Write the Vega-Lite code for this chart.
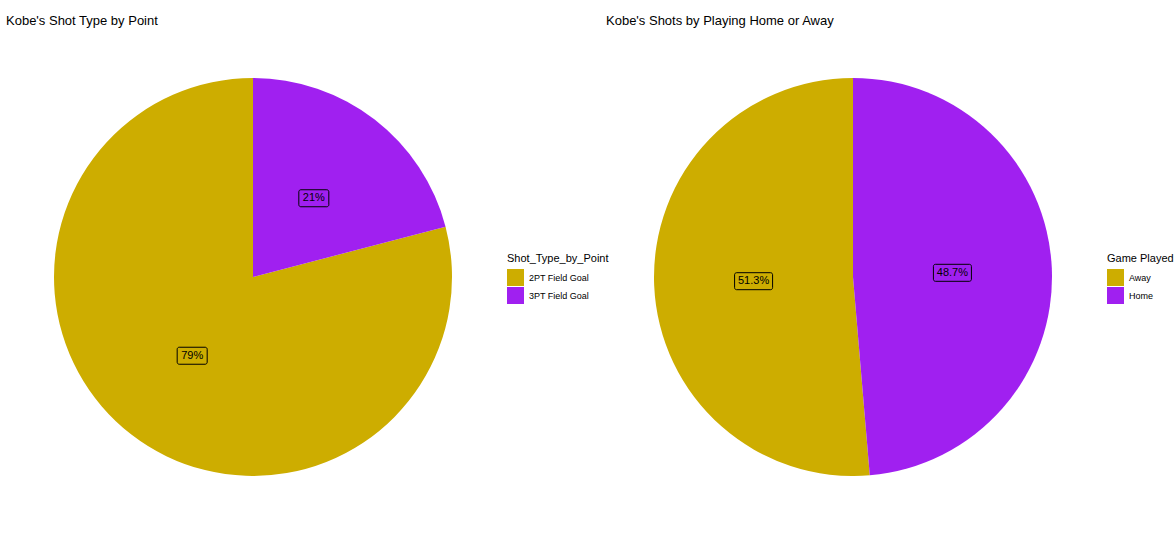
{
  "$schema": "https://vega.github.io/schema/vega-lite/v6.json",
  "background": "white",
  "padding": {"left": 6, "top": 15, "right": 0, "bottom": 0},
  "datasets": {
    "shot": [
      {"category": "2PT Field Goal", "count": 24271, "label": "79%"},
      {"category": "3PT Field Goal", "count": 6426, "label": "21%"}
    ],
    "home": [
      {"category": "Away", "count": 15761, "label": "51.3%"},
      {"category": "Home", "count": 14936, "label": "48.7%"}
    ]
  },
  "bounds": "flush",
  "spacing": 202,
  "resolve": {"scale": {"color": "independent", "x": "independent", "y": "independent"}, "legend": {"color": "independent"}},
  "hconcat": [
    {
      "width": 398,
      "height": 398,
      "title": {"text": "Kobe's Shot Type by Point", "anchor": "start", "dx": -48, "offset": 50},
      "data": {"name": "shot"},
      "transform": [
        {"joinaggregate": [{"op": "sum", "field": "count", "as": "total"}]},
        {"window": [{"op": "sum", "field": "count", "as": "cum"}], "sort": [{"field": "category", "order": "descending"}], "frame": [null, 0]},
        {"calculate": "2*PI*(datum.cum - datum.count/2)/datum.total", "as": "mid"},
        {"calculate": "0.5*sin(datum.mid)", "as": "lx"},
        {"calculate": "0.5*cos(datum.mid)", "as": "ly"},
        {"calculate": "(2*length(datum.label)+9)/199", "as": "hw"},
        {"calculate": "datum.lx - datum.hw", "as": "bx1"},
        {"calculate": "datum.lx + datum.hw", "as": "bx2"},
        {"calculate": "datum.ly - 8.5/199", "as": "by1"},
        {"calculate": "datum.ly + 8.5/199", "as": "by2"}
      ],
      "layer": [
        {
          "mark": {"type": "arc"},
          "encoding": {
            "theta": {"field": "count", "type": "quantitative", "stack": true},
            "order": {"field": "category", "sort": "descending"},
            "color": {
              "field": "category", "type": "nominal", "title": "Shot_Type_by_Point",
              "scale": {"domain": ["2PT Field Goal", "3PT Field Goal"], "range": ["#CDAD00", "#A020F0"]},
              "legend": {"orient": "none", "legendX": 453, "legendY": 175}
            }
          }
        },
        {
          "mark": {"type": "rect", "fillOpacity": 0, "stroke": "black", "strokeWidth": 1, "cornerRadius": 2},
          "encoding": {
            "x": {"field": "bx1", "type": "quantitative", "scale": {"domain": [-1, 1]}, "axis": null},
            "x2": {"field": "bx2"},
            "y": {"field": "by1", "type": "quantitative", "scale": {"domain": [-1, 1]}, "axis": null},
            "y2": {"field": "by2"}
          }
        },
        {
          "mark": {"type": "text", "fontSize": 11, "color": "black"},
          "encoding": {
            "x": {"field": "lx", "type": "quantitative", "scale": {"domain": [-1, 1]}, "axis": null},
            "y": {"field": "ly", "type": "quantitative", "scale": {"domain": [-1, 1]}, "axis": null},
            "text": {"field": "label"}
          }
        }
      ]
    },
    {
      "width": 398,
      "height": 398,
      "title": {"text": "Kobe's Shots by Playing Home or Away", "anchor": "start", "dx": -48, "offset": 50},
      "data": {"name": "home"},
      "transform": [
        {"joinaggregate": [{"op": "sum", "field": "count", "as": "total"}]},
        {"window": [{"op": "sum", "field": "count", "as": "cum"}], "sort": [{"field": "category", "order": "descending"}], "frame": [null, 0]},
        {"calculate": "2*PI*(datum.cum - datum.count/2)/datum.total", "as": "mid"},
        {"calculate": "0.5*sin(datum.mid)", "as": "lx"},
        {"calculate": "0.5*cos(datum.mid)", "as": "ly"},
        {"calculate": "(2*length(datum.label)+9)/199", "as": "hw"},
        {"calculate": "datum.lx - datum.hw", "as": "bx1"},
        {"calculate": "datum.lx + datum.hw", "as": "bx2"},
        {"calculate": "datum.ly - 8.5/199", "as": "by1"},
        {"calculate": "datum.ly + 8.5/199", "as": "by2"}
      ],
      "layer": [
        {
          "mark": {"type": "arc"},
          "encoding": {
            "theta": {"field": "count", "type": "quantitative", "stack": true},
            "order": {"field": "category", "sort": "descending"},
            "color": {
              "field": "category", "type": "nominal", "title": "Game Played",
              "scale": {"domain": ["Away", "Home"], "range": ["#CDAD00", "#A020F0"]},
              "legend": {"orient": "none", "legendX": 453, "legendY": 175}
            }
          }
        },
        {
          "mark": {"type": "rect", "fillOpacity": 0, "stroke": "black", "strokeWidth": 1, "cornerRadius": 2},
          "encoding": {
            "x": {"field": "bx1", "type": "quantitative", "scale": {"domain": [-1, 1]}, "axis": null},
            "x2": {"field": "bx2"},
            "y": {"field": "by1", "type": "quantitative", "scale": {"domain": [-1, 1]}, "axis": null},
            "y2": {"field": "by2"}
          }
        },
        {
          "mark": {"type": "text", "fontSize": 11, "color": "black"},
          "encoding": {
            "x": {"field": "lx", "type": "quantitative", "scale": {"domain": [-1, 1]}, "axis": null},
            "y": {"field": "ly", "type": "quantitative", "scale": {"domain": [-1, 1]}, "axis": null},
            "text": {"field": "label"}
          }
        }
      ]
    }
  ],
  "config": {
    "view": {"stroke": null},
    "font": "Liberation Sans",
    "title": {"fontSize": 13, "fontWeight": "normal", "color": "black", "font": "Liberation Sans"},
    "legend": {
      "titleFontSize": 11, "titleFontWeight": "normal", "titleColor": "black", "titleFont": "Liberation Sans",
      "labelFontSize": 9, "labelColor": "black", "labelFont": "Liberation Sans",
      "symbolType": "square", "symbolSize": 289, "symbolStrokeWidth": 0, "symbolOpacity": 1,
      "rowPadding": 1, "labelOffset": 5, "titlePadding": 5
    }
  }
}
